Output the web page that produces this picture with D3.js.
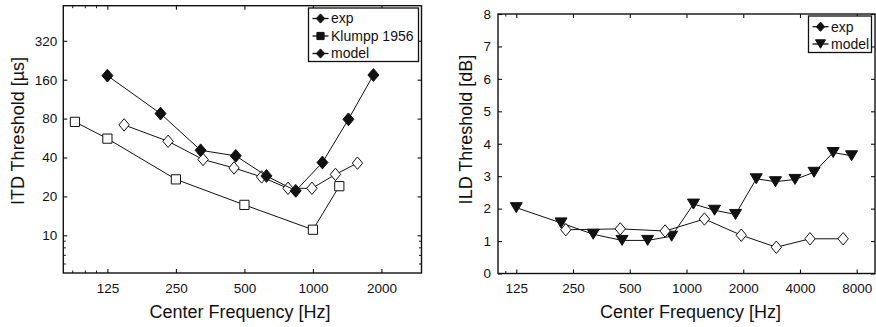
<!DOCTYPE html>
<html>
<head>
<meta charset="utf-8">
<script src="https://cdn.jsdelivr.net/npm/d3@7"></script>
<style>
  html, body { margin: 0; padding: 0; background: #fff; }
  svg { display: block; }
  text { font-family: "Liberation Sans", Arial, Helvetica, sans-serif; fill: #111; }
</style>
</head>
<body>
<svg id="chart" width="876" height="327"></svg>
<script>
// ---------- Data ----------
// Left panel: ITD thresholds
const itdXTicks = [125, 250, 500, 1000, 2000];
const itdYTicks = [10, 20, 40, 80, 160, 320];
const itdXMinor = [88, 100, 112];
const itdYMinor = [6, 7, 8, 9];

const itdExpFreq   = [125, 214, 321, 458, 625, 840, 1101, 1432, 1844];
const itdExpVal    = [172, 87.5, 45.5, 41.2, 28.8, 22.1, 36.6, 79, 174];
const itdModelFreq = [148, 231, 329, 450, 595, 777, 990, 1256, 1569];
const itdModelVal  = [71.5, 53.4, 38.6, 33.2, 28.3, 23.1, 23.1, 29.6, 36.2];
const klumppFreq   = [90, 125, 250, 500, 1000, 1306];
const klumppVal    = [75.5, 56, 27.1, 17.2, 11.05, 24];
const itdLegend    = ["exp", "Klumpp 1956", "model"];

// Right panel: ILD thresholds
const ildXTicks = [125, 250, 500, 1000, 2000, 4000, 8000];
const ildYTicks = [0, 1, 2, 3, 4, 5, 6, 7, 8];
const ildXMinor = [110];

const ildExpFreq   = [229, 445, 770, 1245, 1952, 2996, 4520, 6776];
const ildExpVal    = [1.35, 1.375, 1.31, 1.68, 1.18, 0.81, 1.07, 1.07];
const ildModelFreq = [125, 216, 320, 455, 622, 834, 1089, 1409, 1820, 2345, 2965, 3764, 4752, 6000, 7510];
const ildModelVal  = [2.03, 1.56, 1.21, 1.02, 1.02, 1.15, 2.14, 1.95, 1.82, 2.92, 2.83, 2.9, 3.12, 3.73, 3.63];
const ildLegend    = ["exp", "model"];

const xTitle = "Center Frequency [Hz]";
const itdYTitle = "ITD Threshold [\u00b5s]";
const ildYTitle = "ILD Threshold [dB]";

// ---------- Helpers ----------
const svg = d3.select("#chart");
const zip = (a, b) => a.map((v, i) => [v, b[i]]);

function diamondPath(w, h) {
  return `M0,${-h}L${w},0L0,${h}L${-w},0Z`;
}
function squarePath(s) {
  return `M${-s},${-s}H${s}V${s}H${-s}Z`;
}
function triDownPath(w, h) {
  return `M${-w},${-h}L${w},${-h}L0,${h}Z`;
}

function drawFrame(g, x, y, opts) {
  const [x0, x1] = x.range();
  const [y0, y1] = y.range(); // y0 bottom, y1 top
  const tick = 4, minor = 2.5;

  const ax = g.append("g").attr("transform", `translate(0,${y0})`)
    .call(d3.axisBottom(x).tickValues(opts.xTicks).tickFormat(d3.format("d"))
      .tickSizeInner(-tick).tickSizeOuter(0).tickPadding(10));
  const ay = g.append("g").attr("transform", `translate(${x0},0)`)
    .call(d3.axisLeft(y).tickValues(opts.yTicks).tickFormat(d3.format("d"))
      .tickSizeInner(-tick).tickSizeOuter(0).tickPadding(opts.yPad));
  const at = g.append("g").attr("transform", `translate(0,${y1})`)
    .call(d3.axisTop(x).tickValues(opts.xTicks).tickFormat("")
      .tickSizeInner(-tick).tickSizeOuter(0));
  const ar = g.append("g").attr("transform", `translate(${x1},0)`)
    .call(d3.axisRight(y).tickValues(opts.yTicks).tickFormat("")
      .tickSizeInner(-tick).tickSizeOuter(0));
  [ax, ay, at, ar].forEach(a => {
    a.select(".domain").remove();
    a.selectAll("line").attr("stroke", "#111").attr("stroke-width", 1.1);
    a.selectAll("text").attr("font-size", 13.5).attr("fill", "#111")
      .style("font-family", '"Liberation Sans", Arial, sans-serif');
  });
  (opts.xMinor || []).forEach(v => {
    const px = x(v);
    g.append("line").attr("x1", px).attr("x2", px).attr("y1", y0).attr("y2", y0 - minor)
      .attr("stroke", "#111").attr("stroke-width", 1);
    g.append("line").attr("x1", px).attr("x2", px).attr("y1", y1).attr("y2", y1 + minor)
      .attr("stroke", "#111").attr("stroke-width", 1);
  });
  (opts.yMinor || []).forEach(v => {
    const py = y(v);
    g.append("line").attr("x1", x0).attr("x2", x0 + minor).attr("y1", py).attr("y2", py)
      .attr("stroke", "#111").attr("stroke-width", 1);
    g.append("line").attr("x1", x1).attr("x2", x1 - minor).attr("y1", py).attr("y2", py)
      .attr("stroke", "#111").attr("stroke-width", 1);
  });
  g.append("rect").attr("x", x0).attr("y", y1).attr("width", x1 - x0).attr("height", y0 - y1)
    .attr("fill", "none").attr("stroke", "#111").attr("stroke-width", 1.4);
  g.append("text").attr("x", opts.xTitleX).attr("y", 318).attr("text-anchor", "middle")
    .attr("font-size", 18).text(opts.xTitle);
  g.append("text").attr("transform", `translate(${opts.yTitleX},${opts.yTitleY}) rotate(-90)`)
    .attr("text-anchor", "middle").attr("font-size", 18).text(opts.yTitle);
}

function drawSeries(g, x, y, pts, shape, fill) {
  const line = d3.line().x(d => x(d[0])).y(d => y(d[1]));
  g.append("path").datum(pts).attr("d", line)
    .attr("fill", "none").attr("stroke", "#111").attr("stroke-width", 1);
  g.selectAll(null).data(pts).enter().append("path")
    .attr("transform", d => `translate(${x(d[0])},${y(d[1])})`)
    .attr("d", shape)
    .attr("fill", fill).attr("stroke", "#111").attr("stroke-width", 1);
}

function drawLegend(g, box, labels, shapes) {
  g.append("rect").attr("x", box.x).attr("y", box.y).attr("width", box.w).attr("height", box.h)
    .attr("fill", "#fff").attr("stroke", "#111").attr("stroke-width", 1.3);
  labels.forEach((lab, i) => {
    const cy = box.firstY + i * box.step;
    g.append("line").attr("x1", box.x + 4).attr("x2", box.x + 20).attr("y1", cy).attr("y2", cy)
      .attr("stroke", "#111").attr("stroke-width", 1.3);
    g.append("path").attr("transform", `translate(${box.x + 12},${cy})`).attr("d", shapes[i])
      .attr("fill", "#111").attr("stroke", "#111").attr("stroke-width", 1);
    g.append("text").attr("x", box.x + 22.5).attr("y", cy).attr("dy", "0.35em")
      .attr("font-size", 14).text(lab);
  });
}

// ---------- Left panel (ITD) ----------
{
  const g = svg.append("g");
  const x = d3.scaleLog().domain([80, 3000]).range([63.3, 421.5]);
  const y = d3.scaleLog().base(2).domain([5.11, 598]).range([273, 5.7]);
  drawFrame(g, x, y, {
    xTicks: itdXTicks, yTicks: itdYTicks, xMinor: itdXMinor, yMinor: itdYMinor,
    yPad: 6, xTitle: xTitle, xTitleX: 240, yTitle: itdYTitle, yTitleX: 23.5, yTitleY: 131
  });
  const dg = g.append("g");
  drawSeries(dg, x, y, zip(klumppFreq, klumppVal), squarePath(4.6), "#fff");
  drawSeries(dg, x, y, zip(itdModelFreq, itdModelVal), diamondPath(5.2, 6.2), "#fff");
  drawSeries(dg, x, y, zip(itdExpFreq, itdExpVal), diamondPath(5.5, 6.4), "#111");
  drawLegend(g, { x: 308.5, y: 8, w: 110, h: 53.5, firstY: 18.5, step: 17.5 },
    itdLegend, [diamondPath(4.2, 4.6), squarePath(3.6), diamondPath(4.2, 4.6)]);
}

// ---------- Right panel (ILD) ----------
{
  const g = svg.append("g");
  const x = d3.scaleLog().domain([100, 10000]).range([498, 875]);
  const y = d3.scaleLinear().domain([0, 8]).range([273.5, 14]);
  drawFrame(g, x, y, {
    xTicks: ildXTicks, yTicks: ildYTicks, xMinor: ildXMinor, yMinor: [],
    yPad: 7, xTitle: xTitle, xTitleX: 690.5, yTitle: ildYTitle, yTitleX: 472, yTitleY: 129.5
  });
  const dg = g.append("g");
  drawSeries(dg, x, y, zip(ildModelFreq, ildModelVal), triDownPath(6, 5), "#111");
  drawSeries(dg, x, y, zip(ildExpFreq, ildExpVal), diamondPath(5.2, 6.2), "#fff");
  drawLegend(g, { x: 808.5, y: 16, w: 63, h: 36.5, firstY: 26.7, step: 17.3 },
    ildLegend, [diamondPath(4.2, 4.6), triDownPath(5, 4.2)]);
}
</script>
</body>
</html>
